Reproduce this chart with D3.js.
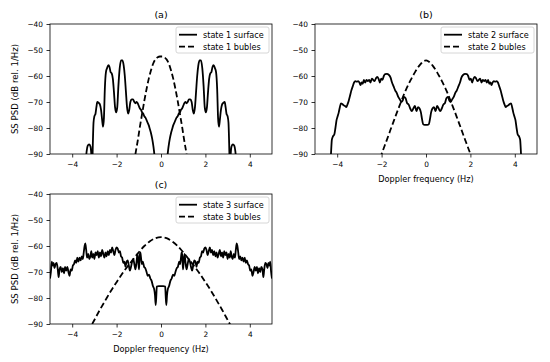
<!DOCTYPE html>
<html>
<head>
<meta charset="utf-8">
<script src="https://cdn.jsdelivr.net/npm/d3@7"></script>
<style>
body { margin: 0; background: #fff; }
text { font-family: "DejaVu Sans", sans-serif; fill: #000; }
</style>
</head>
<body>
<script>
// axis ticks shared by the three panels
var yTicks = [-90, -80, -70, -60, -50, -40];
var xTicks = [-4, -2, 0, 2, 4];

var panelTitles = ["(a)", "(b)", "(c)"];
var surfaceNames = ["state 1 surface", "state 2 surface", "state 3 surface"];
var bubbleNames = ["state 1 bubles", "state 2 bubles", "state 3 bubles"];

// [doppler frequency (Hz), SS PSD (dB)]
var surface1 = [[-5.00,-110],[-3.42,-100],[-3.38,-92],[-3.35,-89],[-3.30,-86.8],[-3.24,-86.3],[-3.18,-87],[-3.14,-90],[-3.11,-96],[-3.09,-93],[-3.07,-86],[-3.04,-78],[-3.00,-75.5],[-2.95,-74.5],[-2.91,-72],[-2.87,-70],[-2.81,-70.3],[-2.75,-71],[-2.70,-73],[-2.65,-77],[-2.61,-79.5],[-2.57,-76],[-2.53,-65],[-2.48,-58.5],[-2.43,-57],[-2.37,-55.8],[-2.32,-56.5],[-2.27,-58.5],[-2.22,-59],[-2.17,-61],[-2.12,-66],[-2.07,-72],[-2.02,-74],[-1.97,-72],[-1.92,-64],[-1.86,-57],[-1.80,-54],[-1.74,-54],[-1.68,-56],[-1.63,-60],[-1.58,-66],[-1.53,-72],[-1.48,-74.5],[-1.43,-73],[-1.38,-70],[-1.32,-69],[-1.26,-69],[-1.20,-70],[-1.15,-70.5],[-1.10,-70],[-1.05,-70.5],[-1.00,-71.5],[-0.95,-72.5],[-0.90,-73],[-0.85,-74],[-0.80,-74.5],[-0.75,-75.5],[-0.70,-76],[-0.65,-77],[-0.60,-78],[-0.55,-79],[-0.50,-80.5],[-0.45,-82],[-0.40,-84],[-0.36,-86],[-0.32,-88.5],[-0.28,-92],[-0.22,-100],[0.00,-110],
	[0.22,-100],[0.28,-92],[0.32,-88.5],[0.36,-86],[0.40,-84],[0.45,-82],[0.50,-80.5],[0.55,-79],[0.60,-78],[0.65,-77],[0.70,-76],[0.75,-75.5],[0.80,-74.5],[0.85,-74],[0.90,-73],[0.95,-72.5],[1.00,-71.5],[1.05,-70.5],[1.10,-70],[1.15,-70.5],[1.20,-70],[1.26,-69],[1.32,-69],[1.38,-70],[1.43,-73],[1.48,-74.5],[1.53,-72],[1.58,-66],[1.63,-60],[1.68,-56],[1.74,-54],[1.80,-54],[1.86,-57],[1.92,-64],[1.97,-72],[2.02,-74],[2.07,-72],[2.12,-66],[2.17,-61],[2.22,-59],[2.27,-58.5],[2.32,-56.5],[2.37,-55.8],[2.43,-57],[2.48,-58.5],[2.53,-65],[2.57,-76],[2.61,-79.5],[2.65,-77],[2.70,-73],[2.75,-71],[2.81,-70.3],[2.87,-70],[2.91,-72],[2.95,-74.5],[3.00,-75.5],[3.04,-78],[3.07,-86],[3.09,-93],[3.11,-96],[3.14,-90],[3.18,-87],[3.24,-86.3],[3.30,-86.8],[3.35,-89],[3.38,-92],[3.42,-100],[5.00,-110]];

var bubbles1 = [[-1.25,-97],[-1.15,-90],[-1.05,-85],[-0.95,-79.5],[-0.85,-74.5],[-0.75,-69.5],[-0.65,-65],[-0.55,-61],[-0.45,-57.8],[-0.35,-55.2],[-0.25,-53.6],[-0.15,-52.8],[-0.05,-52.5],[0.05,-52.5],[0.15,-52.8],[0.25,-53.6],[0.35,-55.2],[0.45,-57.8],[0.55,-61],[0.65,-65],[0.75,-69.5],[0.85,-74.5],[0.95,-79.5],[1.05,-85],[1.15,-90],[1.25,-97]];

var surface2 = [[-5.00,-110],[-4.34,-100],[-4.28,-90],[-4.24,-84.5],[-4.19,-83.2],[-4.13,-82.5],[-4.08,-80],[-4.03,-77],[-3.98,-75.5],[-3.93,-74],[-3.88,-72],[-3.83,-70.5],[-3.77,-70.8],[-3.71,-71.3],[-3.65,-71.5],[-3.59,-72],[-3.54,-71],[-3.48,-69.5],[-3.42,-67.5],[-3.36,-65.5],[-3.30,-64],[-3.24,-62.5],[-3.18,-62],[-3.12,-62.2],[-3.06,-62],[-3.00,-62.5],[-2.95,-63.5],[-2.90,-62.5],[-2.85,-63],[-2.80,-61.5],[-2.74,-62.5],[-2.68,-61.5],[-2.62,-62],[-2.56,-61.5],[-2.50,-62.5],[-2.44,-61],[-2.38,-61.5],[-2.32,-62],[-2.26,-61],[-2.20,-60.3],[-2.14,-61],[-2.08,-62.5],[-2.02,-61],[-1.96,-61.5],[-1.90,-60],[-1.84,-59.3],[-1.76,-59.2],[-1.68,-59.5],[-1.60,-60.5],[-1.53,-62.5],[-1.46,-64],[-1.39,-65.5],[-1.32,-66.5],[-1.25,-68],[-1.18,-69],[-1.11,-70],[-1.05,-69.5],[-0.99,-68],[-0.92,-68.5],[-0.85,-70.5],[-0.78,-71],[-0.71,-72.5],[-0.64,-73.5],[-0.57,-72.5],[-0.50,-71.5],[-0.43,-73.5],[-0.36,-72],[-0.29,-72.5],[-0.23,-74],[-0.18,-76.5],[-0.13,-78.5],[-0.06,-78.8],[0.00,-78.8],
	[0.06,-78.8],[0.13,-78.5],[0.18,-76.5],[0.23,-74],[0.29,-72.5],[0.36,-72],[0.43,-73.5],[0.50,-71.5],[0.57,-72.5],[0.64,-73.5],[0.71,-72.5],[0.78,-71],[0.85,-70.5],[0.92,-68.5],[0.99,-68],[1.05,-69.5],[1.11,-70],[1.18,-69],[1.25,-68],[1.32,-66.5],[1.39,-65.5],[1.46,-64],[1.53,-62.5],[1.60,-60.5],[1.68,-59.5],[1.76,-59.2],[1.84,-59.3],[1.90,-60],[1.96,-61.5],[2.02,-61],[2.08,-62.5],[2.14,-61],[2.20,-60.3],[2.26,-61],[2.32,-62],[2.38,-61.5],[2.44,-61],[2.50,-62.5],[2.56,-61.5],[2.62,-62],[2.68,-61.5],[2.74,-62.5],[2.80,-61.5],[2.85,-63],[2.90,-62.5],[2.95,-63.5],[3.00,-62.5],[3.06,-62],[3.12,-62.2],[3.18,-62],[3.24,-62.5],[3.30,-64],[3.36,-65.5],[3.42,-67.5],[3.48,-69.5],[3.54,-71],[3.59,-72],[3.65,-71.5],[3.71,-71.3],[3.77,-70.8],[3.83,-70.5],[3.88,-72],[3.93,-74],[3.98,-75.5],[4.03,-77],[4.08,-80],[4.13,-82.5],[4.19,-83.2],[4.24,-84.5],[4.28,-90],[4.34,-100],[5.00,-110]];

var bubbles2 = [[-2.2,-95],[-2.0,-90],[-1.9,-87.7],[-1.8,-85.4],[-1.7,-83.1],[-1.6,-80.7],[-1.5,-78.4],[-1.4,-76.1],[-1.3,-73.8],[-1.2,-71.6],[-1.1,-69.4],[-1.0,-67.2],[-0.9,-65.2],[-0.8,-63.4],[-0.7,-61.7],[-0.6,-60.1],[-0.5,-58.6],[-0.4,-57.2],[-0.3,-56],[-0.2,-55],[-0.1,-54.3],[0,-54],[0.1,-54.3],[0.2,-55],[0.3,-56],[0.4,-57.2],[0.5,-58.6],[0.6,-60.1],[0.7,-61.7],[0.8,-63.4],[0.9,-65.2],[1.0,-67.2],[1.1,-69.4],[1.2,-71.6],[1.3,-73.8],[1.4,-76.1],[1.5,-78.4],[1.6,-80.7],[1.7,-83.1],[1.8,-85.4],[1.9,-87.7],[2.0,-90],[2.2,-95]];

var surface3 = [[-5.00,-72.5],[-4.96,-70],[-4.92,-66],[-4.88,-67.5],[-4.84,-66.5],[-4.80,-68.5],[-4.75,-67],[-4.70,-66.5],[-4.65,-69],[-4.61,-72],[-4.57,-69],[-4.52,-68],[-4.47,-70],[-4.42,-68.5],[-4.37,-70.5],[-4.32,-68],[-4.27,-69.5],[-4.22,-68],[-4.17,-70],[-4.12,-71.5],[-4.07,-69],[-4.02,-69.5],[-3.97,-67.5],[-3.92,-67],[-3.87,-65.5],[-3.82,-66.5],[-3.77,-64.5],[-3.72,-66],[-3.67,-64.5],[-3.62,-65.5],[-3.57,-64],[-3.52,-65],[-3.48,-62.5],[-3.44,-60],[-3.41,-59],[-3.37,-61.5],[-3.33,-64.5],[-3.28,-63],[-3.23,-65],[-3.18,-64],[-3.14,-62],[-3.10,-64.5],[-3.05,-63],[-3.00,-65],[-2.95,-62.5],[-2.90,-63.5],[-2.85,-62],[-2.80,-64.5],[-2.75,-62.5],[-2.70,-64],[-2.65,-61.5],[-2.60,-63],[-2.55,-64.5],[-2.50,-62.5],[-2.45,-64],[-2.40,-62],[-2.35,-63.5],[-2.30,-61.5],[-2.25,-62.5],[-2.20,-60.5],[-2.15,-62],[-2.10,-63.5],[-2.05,-61.5],[-2.00,-60.5],[-1.95,-61],[-1.90,-62.5],[-1.85,-62],[-1.80,-64],[-1.75,-64.5],[-1.70,-66.5],[-1.65,-66],[-1.60,-68],[-1.55,-66],[-1.50,-65.5],[-1.45,-67.5],[-1.40,-69.5],[-1.35,-68],[-1.30,-66],[-1.25,-65],[-1.20,-67],[-1.15,-69],[-1.10,-66],[-1.06,-63],[-1.02,-66.5],[-0.99,-69],[-0.96,-64],[-0.93,-62.5],[-0.90,-64.5],[-0.86,-67],[-0.82,-66],[-0.76,-68],[-0.71,-68.5],[-0.65,-70],[-0.60,-71.5],[-0.54,-71],[-0.48,-72.5],[-0.42,-73.5],[-0.36,-75.5],[-0.31,-76.5],[-0.27,-79],[-0.24,-82.7],[-0.21,-79],[-0.19,-75.6],[-0.10,-75.4],[0.00,-75.4],
	[0.10,-75.4],[0.19,-75.6],[0.21,-79],[0.24,-82.7],[0.27,-79],[0.31,-76.5],[0.36,-75.5],[0.42,-73.5],[0.48,-72.5],[0.54,-71],[0.60,-71.5],[0.65,-70],[0.71,-68.5],[0.76,-68],[0.82,-66],[0.86,-67],[0.90,-64.5],[0.93,-62.5],[0.96,-64],[0.99,-69],[1.02,-66.5],[1.06,-63],[1.10,-66],[1.15,-69],[1.20,-67],[1.25,-65],[1.30,-66],[1.35,-68],[1.40,-69.5],[1.45,-67.5],[1.50,-65.5],[1.55,-66],[1.60,-68],[1.65,-66],[1.70,-66.5],[1.75,-64.5],[1.80,-64],[1.85,-62],[1.90,-62.5],[1.95,-61],[2.00,-60.5],[2.05,-61.5],[2.10,-63.5],[2.15,-62],[2.20,-60.5],[2.25,-62.5],[2.30,-61.5],[2.35,-63.5],[2.40,-62],[2.45,-64],[2.50,-62.5],[2.55,-64.5],[2.60,-63],[2.65,-61.5],[2.70,-64],[2.75,-62.5],[2.80,-64.5],[2.85,-62],[2.90,-63.5],[2.95,-62.5],[3.00,-65],[3.05,-63],[3.10,-64.5],[3.14,-62],[3.18,-64],[3.23,-65],[3.28,-63],[3.33,-64.5],[3.37,-61.5],[3.41,-59],[3.44,-60],[3.48,-62.5],[3.52,-65],[3.57,-64],[3.62,-65.5],[3.67,-64.5],[3.72,-66],[3.77,-64.5],[3.82,-66.5],[3.87,-65.5],[3.92,-67],[3.97,-67.5],[4.02,-69.5],[4.07,-69],[4.12,-71.5],[4.17,-70],[4.22,-68],[4.27,-69.5],[4.32,-68],[4.37,-70.5],[4.42,-68.5],[4.47,-70],[4.52,-68],[4.57,-69],[4.61,-72],[4.65,-69],[4.70,-66.5],[4.75,-67],[4.80,-68.5],[4.84,-66.5],[4.88,-67.5],[4.92,-66],[4.96,-70],[5.00,-72.5]];

var bubbles3 = [[-3.3,-93],[-3.1,-90],[-2.75,-84.5],[-2.5,-80.8],[-2.25,-77.2],[-2.0,-73.9],[-1.75,-70.7],[-1.5,-67.8],[-1.25,-65.1],[-1.0,-62.4],[-0.75,-60],[-0.5,-58.2],[-0.25,-57],[0,-56.6],[0.25,-57],[0.5,-58.2],[0.75,-60],[1.0,-62.4],[1.25,-65.1],[1.5,-67.8],[1.75,-70.7],[2.0,-73.9],[2.25,-77.2],[2.5,-80.8],[2.75,-84.5],[3.1,-90],[3.3,-93]];

var svg = d3.select("body").append("svg")
	.attr("width", 550)
	.attr("height", 362)
	.style("background", "#fff");

function drawPanel(i, left, top, surface, bubbles, showYLabel, showXLabel)
{
	var w = 222, h = 130;

	var x = d3.scaleLinear().domain([-5, 5]).range([0, w]);
	var y = d3.scaleLinear().domain([-90, -40]).range([h, 0]);

	var g = svg.append("g")
		.attr("transform", "translate(" + left + "," + top + ")");

	// clip so the curves stop at the frame like matplotlib
	g.append("clipPath")
		.attr("id", "clip" + i)
		.append("rect")
		.attr("width", w)
		.attr("height", h);

	var line = d3.line()
		.x(function(d) { return x(d[0]); })
		.y(function(d) { return y(d[1]); })
		.curve(d3.curveMonotoneX);

	var plot = g.append("g").attr("clip-path", "url(#clip" + i + ")");

	// surface spectrum, solid
	plot.append("path")
		.datum(surface)
		.attr("d", line)
		.attr("fill", "none")
		.attr("stroke", "#000")
		.attr("stroke-width", 1.8)
		.attr("stroke-linejoin", "round");

	// bubble spectrum, dashed
	plot.append("path")
		.datum(bubbles)
		.attr("d", line)
		.attr("fill", "none")
		.attr("stroke", "#000")
		.attr("stroke-width", 1.8)
		.attr("stroke-dasharray", "6,3");

	// axes
	var yAxis = g.append("g")
		.call(d3.axisLeft(y).tickValues(yTicks).tickSize(3.5).tickPadding(3.5));
	var xAxis = g.append("g")
		.attr("transform", "translate(0," + h + ")")
		.call(d3.axisBottom(x).tickValues(xTicks).tickSize(3.5).tickPadding(4.5));

	[yAxis, xAxis].forEach(function(a) {
		a.select(".domain").remove();
		a.selectAll("line").attr("stroke", "#000").attr("stroke-width", 0.8);
		a.selectAll("text")
			.attr("fill", "#000")
			.style("font-size", "7.4px")
			.style("font-family", "DejaVu Sans, sans-serif");
	});

	// frame
	g.append("rect")
		.attr("width", w)
		.attr("height", h)
		.attr("fill", "none")
		.attr("stroke", "#000")
		.attr("stroke-width", 0.8);

	// title
	g.append("text")
		.attr("x", w / 2)
		.attr("y", -6.5)
		.attr("text-anchor", "middle")
		.style("font-size", "9.5px")
		.text(panelTitles[i]);

	if (showYLabel) {
		g.append("text")
			.attr("transform", "translate(-32," + (h / 2) + ") rotate(-90)")
			.attr("text-anchor", "middle")
			.style("font-size", "8.6px")
			.text("SS PSD (dB rel. 1/Hz)");
	}

	if (showXLabel) {
		g.append("text")
			.attr("x", w / 2)
			.attr("y", h + 27.5)
			.attr("text-anchor", "middle")
			.style("font-size", "8.2px")
			.text("Doppler frequency (Hz)");
	}

	// legend box in the upper right corner
	var lg = g.append("g")
		.attr("transform", "translate(" + (w - 96) + ",3)");

	lg.append("rect")
		.attr("width", 93)
		.attr("height", 26)
		.attr("rx", 2)
		.attr("fill", "#fff")
		.attr("fill-opacity", 0.8)
		.attr("stroke", "#ccc")
		.attr("stroke-width", 0.8);

	[surfaceNames[i], bubbleNames[i]].forEach(function(name, k) {
		var ly = 7.7 + k * 12;
		lg.append("line")
			.attr("x1", 3)
			.attr("x2", 21)
			.attr("y1", ly)
			.attr("y2", ly)
			.attr("stroke", "#000")
			.attr("stroke-width", 1.8)
			.attr("stroke-dasharray", k == 1 ? "6,3" : null);
		lg.append("text")
			.attr("x", 27)
			.attr("y", ly + 2.9)
			.style("font-size", "8.1px")
			.text(name);
	});
}

drawPanel(0, 50, 24, surface1, bubbles1, true, false);
drawPanel(1, 315, 24, surface2, bubbles2, false, true);
drawPanel(2, 50, 194, surface3, bubbles3, true, true);
</script>
</body>
</html>
